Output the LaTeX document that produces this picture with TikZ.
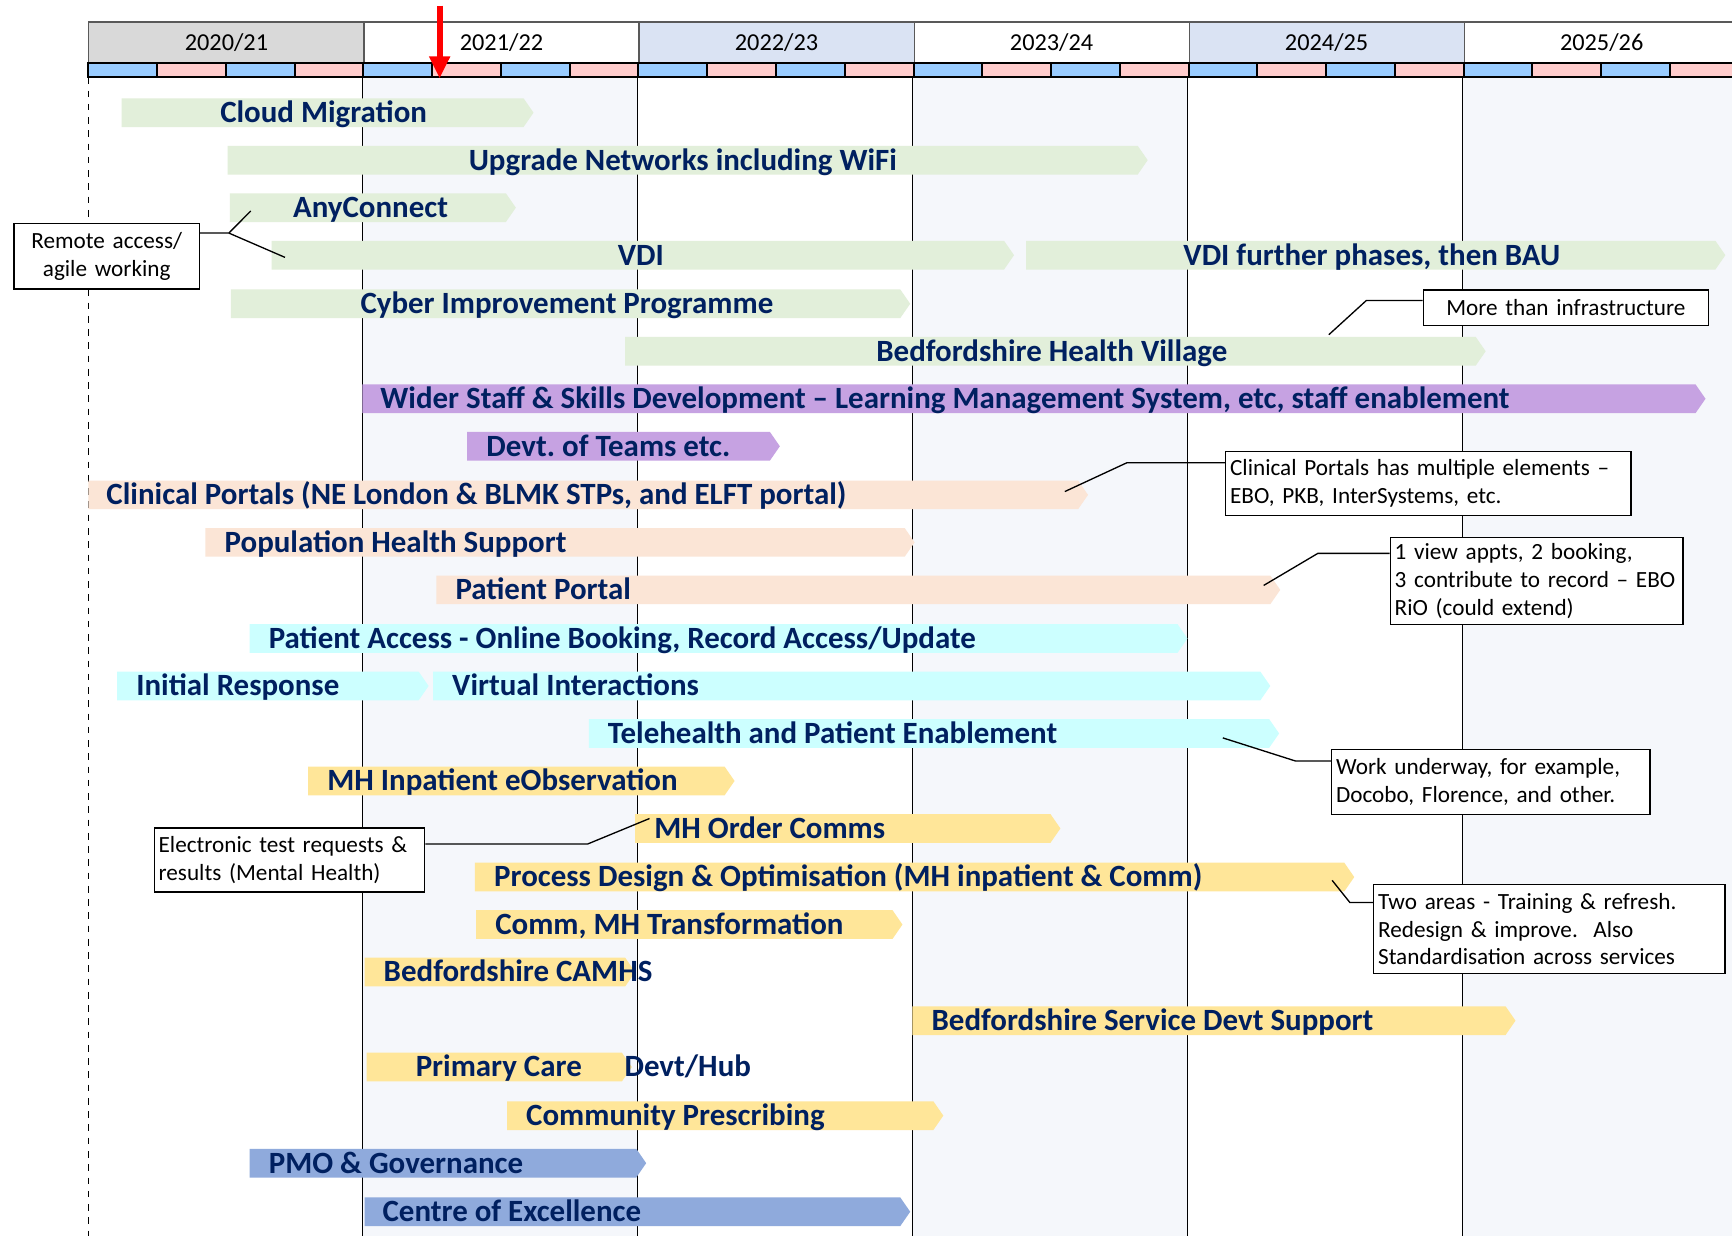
\documentclass[tikz,border=0pt]{standalone}
\usepackage{fontspec}
\setmainfont{Carlito}
\usetikzlibrary{arrows.meta,calc}
\frenchspacing

\definecolor{yrgray}{HTML}{D9D9D9}
\definecolor{yrblue}{HTML}{DAE3F3}
\definecolor{qblue}{HTML}{99CCFF}
\definecolor{qpink}{HTML}{FFCCCC}
\definecolor{colshade}{HTML}{F5F7FB}
\definecolor{bgreen}{HTML}{E2EFDA}
\definecolor{bpurple}{HTML}{C6A2E2}
\definecolor{bpeach}{HTML}{FBE5D6}
\definecolor{bcyan}{HTML}{CCFFFF}
\definecolor{byellow}{HTML}{FFE699}
\definecolor{bblue}{HTML}{8FAADC}
\definecolor{navy}{HTML}{002060}
\definecolor{hdrline}{HTML}{595959}

% one activity bar: #1 row centre, #2 start, #3 tip, #4 colour
\newcommand\ganttbar[4]{%
  \fill[#4] (#2,#1-13) -- (#3-9,#1-13) -- (#3,#1) -- (#3-9,#1+13) -- (#2,#1+13) -- cycle;}

\tikzset{
  barlabel/.style={anchor=base west, inner sep=0pt, text=navy,
    font=\fontsize{14}{16}\selectfont\bfseries},
  yearcell/.style={draw=hdrline, line width=0.5pt, minimum width=124.5pt,
    minimum height=18.5pt, inner sep=0pt, anchor=north west,
    font=\fontsize{11}{13}\selectfont},
  qcell/.style={draw=black, line width=0.9pt},
  gridline/.style={draw=black, line width=0.6pt},
  callout/.style={draw=black, fill=white, line width=0.6pt, inner xsep=2pt,
    inner ysep=0pt, anchor=north west, font=\fontsize{10.5}{12.5}\selectfont},
  leader/.style={draw=black, line width=0.6pt},
}

\begin{document}
\begin{tikzpicture}[x=0.5pt,y=-0.5pt]
\clip (0,0) rectangle (1568,1119);
\fill[white] (0,0) rectangle (1568,1119);

% shaded year columns
\fill[colshade] (328,70) rectangle (577,1119);
\fill[colshade] (826,70) rectangle (1075,1119);
\fill[colshade] (1324,70) rectangle (1574,1119);

% ---------- year grid lines (behind the bars) ----------
\draw[gridline, dashed, line width=0.5pt] (80,70) -- (80,1119);
\foreach \gx in {328,577,826,1075,1324}
  \draw[gridline] (\gx,70) -- (\gx,1119);

% ---------- activity bars ----------
\ganttbar{102}{110}{483}{bgreen}
\ganttbar{145}{206}{1039}{bgreen}
\ganttbar{188}{208}{467}{bgreen}
\ganttbar{231}{246}{918}{bgreen}
\ganttbar{231}{929}{1562}{bgreen}
\ganttbar{275}{209}{824}{bgreen}
\ganttbar{318}{566}{1345}{bgreen}
\ganttbar{361}{328}{1544}{bpurple}
\ganttbar{404}{423}{706}{bpurple}
\ganttbar{448}{80}{985}{bpeach}
\ganttbar{491}{186}{828}{bpeach}
\ganttbar{534}{395}{1159}{bpeach}
\ganttbar{578}{226}{1075}{bcyan}
\ganttbar{621}{106}{388}{bcyan}
\ganttbar{621}{392}{1150}{bcyan}
\ganttbar{664}{533}{1158}{bcyan}
\ganttbar{707}{279}{665}{byellow}
\ganttbar{750}{575}{960}{byellow}
\ganttbar{794}{430}{1226}{byellow}
\ganttbar{837}{431}{817}{byellow}
\ganttbar{880}{330}{575}{byellow}
\ganttbar{924}{826}{1372}{byellow}
\ganttbar{966}{332}{572}{byellow}
\ganttbar{1010}{459}{854}{byellow}
\ganttbar{1053}{226}{585}{bblue}
\ganttbar{1097}{330}{824}{bblue}

% ---------- bar labels ----------
\node[barlabel] (lCloud) at (199,111) {Cloud Migration};
\node[barlabel] (lNet)   at (424,154) {Upgrade Networks including WiFi};
\node[barlabel] (lAny)   at (265,197) {AnyConnect};
\node[barlabel] (lVDI)   at (559,240) {VDI};
\node[barlabel] (lVDIb)  at (1071,240) {VDI further phases, then BAU};
\node[barlabel] (lCyber) at (326,284) {Cyber Improvement Programme};
\node[barlabel] (lBHV)   at (793,327) {Bedfordshire Health Village};
\node[barlabel] (lWider) at (344,370) {Wider Staff \& Skills Development – Learning Management System, etc, staff enablement};
\node[barlabel] (lTeams) at (440,413) {Devt. of Teams etc.};
\node[barlabel] (lClin)  at (96,457) {Clinical Portals (NE London \& BLMK STPs, and ELFT portal)};
\node[barlabel] (lPop)   at (203,500) {Population Health Support};
\node[barlabel] (lPP)    at (412,543) {Patient Portal};
\node[barlabel] (lPA)    at (243,587) {Patient Access - Online Booking, Record Access/Update};
\node[barlabel] (lIR)    at (123,630) {Initial Response};
\node[barlabel] (lVI)    at (409,630) {Virtual Interactions};
\node[barlabel] (lTele)  at (550,673) {Telehealth and Patient Enablement};
\node[barlabel] (lMHI)   at (296,716) {MH Inpatient eObservation};
\node[barlabel] (lMHO)   at (592,759) {MH Order Comms};
\node[barlabel] (lProc)  at (447,803) {Process Design \& Optimisation (MH inpatient \& Comm)};
\node[barlabel] (lComm)  at (448,846) {Comm, MH Transformation};
\node[barlabel] (lCAMHS) at (347,889) {Bedfordshire CAMHS};
\node[barlabel] (lBSDS)  at (843,933) {Bedfordshire Service Devt Support};
\node[barlabel] (lPC)    at (376,975) {Primary Care};
\node[barlabel] (lHub)   at (565,975) {Devt/Hub};
\node[barlabel] (lCP)    at (476,1019) {Community Prescribing};
\node[barlabel] (lPMO)   at (243,1062) {PMO \& Governance};
\node[barlabel] (lCoE)   at (346,1106) {Centre of Excellence};

% ---------- leader end points on the bars ----------
\coordinate (tAny)   at (227,191);
\coordinate (tVDI)   at (258,233);
\coordinate (tBHV)   at (1203,303);
\coordinate (tClin)  at (964,445);
\coordinate (tPP)    at (1144,530);
\coordinate (tTele)  at (1107,668);
\coordinate (tMHO)   at (588,741);
\coordinate (tProc)  at (1206,797);

% ---------- callouts ----------
\node[callout, text width=80pt, minimum height=29.5pt, align=center] (cRemote) at (12,202)
  {Remote access/\\agile working};
\node[callout, text width=125pt, minimum height=16pt, align=center] (cInfra) at (1288,262)
  {More than infrastructure};
\node[callout, text width=179.5pt, minimum height=29pt, align=left] (cClin) at (1109,408)
  {Clinical Portals has multiple elements –\\EBO, PKB, InterSystems, etc.};
\node[callout, text width=128.5pt, minimum height=39.5pt, align=left] (cPP) at (1258,486)
  {1 view appts, 2 booking,\\3 contribute to record – EBO\\RiO (could extend)};
\node[callout, text width=140pt, minimum height=29.5pt, align=left] (cTele) at (1205,678)
  {Work underway, for example,\\Docobo, Florence, and other.};
\node[callout, text width=118.5pt, minimum height=29pt, align=left] (cMHO) at (139,749)
  {Electronic test requests \&\\results (Mental Health)};
\node[callout, text width=155pt, minimum height=40.5pt, align=left] (cProc) at (1243,800)
  {Two areas - Training \& refresh.\\Redesign \& improve.\ \ Also\\Standardisation across services};

% ---------- leaders ----------
\draw[leader] (cRemote.north east) ++(0,9) -- ++(26,0) coordinate (fork) -- (tAny);
\draw[leader] (fork) -- (tVDI);
\draw[leader] (cInfra.north west) ++(0,10) -- ++(-51,0) -- (tBHV);
\draw[leader] (cClin.north west) ++(0,11) -- ++(-89,0) -- (tClin);
\draw[leader] (cPP.north west) ++(0,15) -- ++(-65,0) -- (tPP);
\draw[leader] (cTele.north west) ++(0,11) -- ++(-32,0) -- (tTele);
\draw[leader] (cMHO.north east) ++(0,15) -- ++(147,0) -- (tMHO);
\draw[leader] (cProc.north west) ++(0,17) -- ++(-21,0) -- (tProc);

% ---------- header: financial years ----------
\node[yearcell, fill=yrgray] (y20) at (80,20)   {2020/21};
\node[yearcell, fill=white]  (y21) at (329,20)  {2021/22};
\node[yearcell, fill=yrblue] (y22) at (578,20)  {2022/23};
\node[yearcell, fill=white]  (y23) at (827,20)  {2023/24};
\node[yearcell, fill=yrblue] (y24) at (1076,20) {2024/25};
\node[yearcell, fill=white]  (y25) at (1325,20) {2025/26};
\draw[hdrline, line width=0.8pt] (80,20) -- (1574,20);

% ---------- header: quarters ----------
\foreach \k in {0,2,...,22}
  \draw[qcell, fill=qblue] ({80+62.25*\k},57) rectangle ++(62.25,13);
\foreach \k in {1,3,...,23}
  \draw[qcell, fill=qpink] ({80+62.25*\k},57) rectangle ++(62.25,13);

% ---------- today marker ----------
\coordinate (nowTop) at (398,5);
\coordinate (nowTip) at (398,71);
\draw[red, line width=2.6pt, -{Triangle[width=9pt,length=10pt]}] (nowTop) -- (nowTip);
\end{tikzpicture}
\end{document}
